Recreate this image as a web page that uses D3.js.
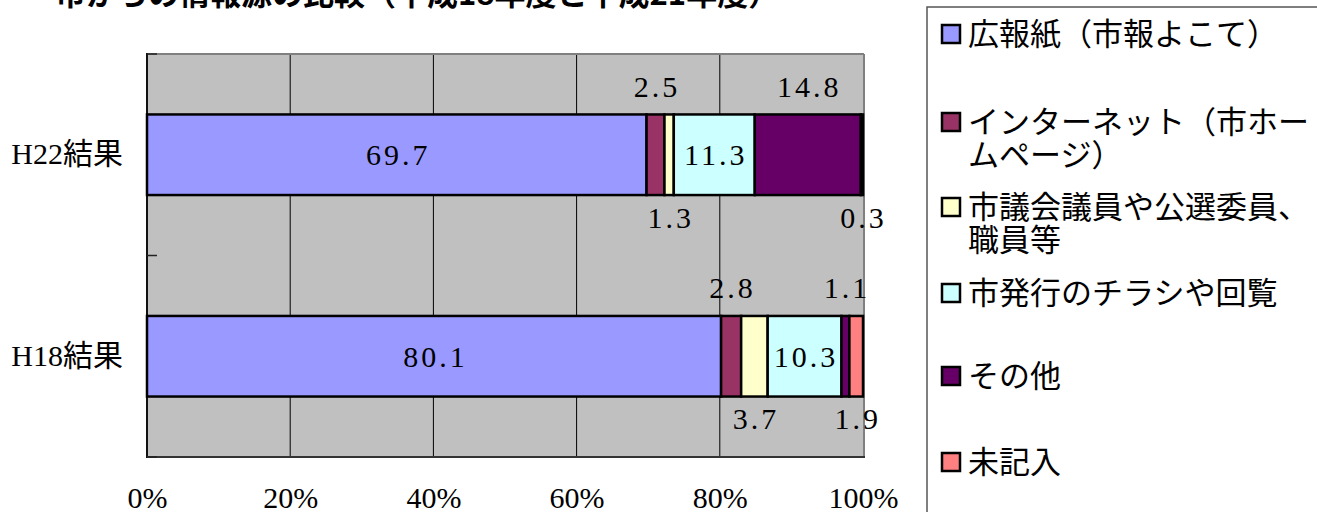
<!DOCTYPE html>
<html>
<head>
<meta charset="utf-8">
<script src="https://cdn.jsdelivr.net/npm/d3@7"></script>
<style>
  html, body { margin: 0; padding: 0; background: #fff; overflow: hidden; }
  svg { display: block; }
</style>
</head>
<body>
<svg id="chart" width="1317" height="512"></svg>
<script>
// ---- data ----
const titleText = "市からの情報源の比較（平成18年度と平成21年度）";
const categories = ["H22結果", "H18結果"];
const seriesNames = ["広報紙（市報よこて）", "インターネット（市ホームページ）", "市議会議員や公選委員、職員等", "市発行のチラシや回覧", "その他", "未記入"];
const legendLines = [["広報紙（市報よこて）"], ["インターネット（市ホー", "ムページ）"], ["市議会議員や公選委員、", "職員等"], ["市発行のチラシや回覧"], ["その他"], ["未記入"]];
const h22Values = [69.7, 2.5, 1.3, 11.3, 14.8, 0.3];
const h18Values = [80.1, 2.8, 3.7, 10.3, 1.1, 1.9];
const xTickValues = [0, 0.2, 0.4, 0.6, 0.8, 1.0];

// ---- styles ----
const colors = ["#9999FF", "#993366", "#FFFFCC", "#CCFFFF", "#660066", "#FF8080"];
const labelPlacement = ["center", "above", "below", "center", "above", "below"];
const serifFont = "'Liberation Serif', 'Noto Sans CJK JP', serif";

const svg = d3.select("#chart");
const plot = { left: 147, right: 863, top: 54, bottom: 457 };

// table for stacking
const rows = categories.map((c, i) => {
  const vals = i === 0 ? h22Values : h18Values;
  const o = { cat: c };
  seriesNames.forEach((s, j) => o[s] = vals[j]);
  return o;
});

const stack = d3.stack().keys(seriesNames).offset(d3.stackOffsetExpand);
const stacked = stack(rows);

const x = d3.scaleLinear().domain([0, 1]).range([plot.left, plot.right]);
const y = d3.scaleBand().domain(categories).range([plot.top, plot.bottom])
  .paddingInner(0.6).paddingOuter(0.3);

// ---- title (top clipped as in reference) ----
svg.append("text")
  .attr("x", 55).attr("y", 5)
  .attr("font-family", "'Noto Sans CJK JP', sans-serif")
  .attr("font-weight", 700)
  .attr("font-size", 31)
  .attr("fill", "#000")
  .text(titleText);

// ---- plot background ----
svg.append("rect")
  .attr("x", plot.left).attr("y", plot.top)
  .attr("width", plot.right - plot.left).attr("height", plot.bottom - plot.top)
  .attr("fill", "#C0C0C0");

// gridlines
svg.append("g").selectAll("line")
  .data(xTickValues.filter(v => v > 0 && v < 1))
  .join("line")
  .attr("x1", d => x(d)).attr("x2", d => x(d))
  .attr("y1", plot.top).attr("y2", plot.bottom)
  .attr("stroke", "#000").attr("stroke-width", 1);

// borders
svg.append("line").attr("x1", plot.left).attr("x2", plot.right + 1)
  .attr("y1", plot.top).attr("y2", plot.top).attr("stroke", "#808080").attr("stroke-width", 2);
svg.append("line").attr("x1", plot.right + 1).attr("x2", plot.right + 1)
  .attr("y1", plot.top).attr("y2", plot.bottom).attr("stroke", "#808080").attr("stroke-width", 2);
svg.append("line").attr("x1", plot.left).attr("x2", plot.left)
  .attr("y1", plot.top - 1).attr("y2", plot.bottom + 1).attr("stroke", "#111").attr("stroke-width", 2);
svg.append("line").attr("x1", plot.left).attr("x2", plot.right + 2)
  .attr("y1", plot.bottom).attr("y2", plot.bottom).attr("stroke", "#333").attr("stroke-width", 2);

// category ticks (band boundaries)
const mid = (y(categories[0]) + y.bandwidth() + y(categories[1])) / 2;
svg.append("g").selectAll("line")
  .data([plot.top, mid, plot.bottom])
  .join("line")
  .attr("x1", plot.left).attr("x2", plot.left + 10)
  .attr("y1", d => d).attr("y2", d => d)
  .attr("stroke", "#222").attr("stroke-width", 1.5);

// ---- bars ----
const layers = svg.append("g").selectAll("g")
  .data(stacked)
  .join("g")
  .attr("fill", (d, i) => colors[i]);

layers.selectAll("rect")
  .data(d => d)
  .join("rect")
  .attr("x", d => x(d[0]))
  .attr("y", d => y(d.data.cat))
  .attr("width", d => Math.max(0, x(d[1]) - x(d[0])))
  .attr("height", y.bandwidth())
  .attr("stroke", "#000")
  .attr("stroke-width", 2.5);

// ---- value labels ----
const labelG = svg.append("g")
  .attr("font-family", serifFont)
  .attr("font-size", 30)
  .attr("fill", "#000")
  .attr("text-anchor", "middle");

stacked.forEach((layer, si) => {
  layer.forEach(d => {
    const cx = (x(d[0]) + x(d[1])) / 2 + 1.5;
    const top = y(d.data.cat);
    const bottom = top + y.bandwidth();
    let cy;
    if (labelPlacement[si] === "center") cy = top + y.bandwidth() / 2;
    else if (labelPlacement[si] === "above") cy = top - 28;
    else cy = bottom + 22;
    labelG.append("text")
      .attr("x", cx).attr("y", cy).attr("dy", "0.35em")
      .attr("letter-spacing", 3)
      .text(d.data[layer.key].toFixed(1));
  });
});

// ---- axes ----
const xAxis = svg.append("g")
  .attr("transform", `translate(0,${plot.bottom})`)
  .call(d3.axisBottom(x).tickValues(xTickValues).tickFormat(d3.format(".0%")).tickSize(0));
xAxis.select(".domain").remove();
xAxis.selectAll("text")
  .attr("y", 40).attr("dy", "0.35em")
  .attr("font-family", serifFont).attr("font-size", 30).attr("fill", "#000");

const yAxis = svg.append("g")
  .attr("transform", `translate(${plot.left},0)`)
  .call(d3.axisLeft(y).tickSize(0).tickPadding(24));
yAxis.select(".domain").remove();
yAxis.selectAll("text")
  .attr("font-family", serifFont).attr("font-size", 30).attr("fill", "#000");

// ---- legend ----
svg.append("rect")
  .attr("x", 927).attr("y", 7).attr("width", 500).attr("height", 520)
  .attr("fill", "#fff").attr("stroke", "#555").attr("stroke-width", 1.5);

const legendCenters = [34, 122, 207, 293, 376, 462];
const leg = svg.append("g");
seriesNames.forEach((s, i) => {
  const cy = legendCenters[i];
  leg.append("rect")
    .attr("x", 942).attr("y", cy - 9).attr("width", 18).attr("height", 18)
    .attr("fill", colors[i]).attr("stroke", "#000").attr("stroke-width", 2.5);
  const t = leg.append("text")
    .attr("font-family", serifFont).attr("font-size", 31).attr("fill", "#000");
  legendLines[i].forEach((line, k) => {
    t.append("tspan").attr("x", 968).attr("y", cy + k * 33).attr("dy", "0.36em").text(line);
  });
});
</script>
</body>
</html>
